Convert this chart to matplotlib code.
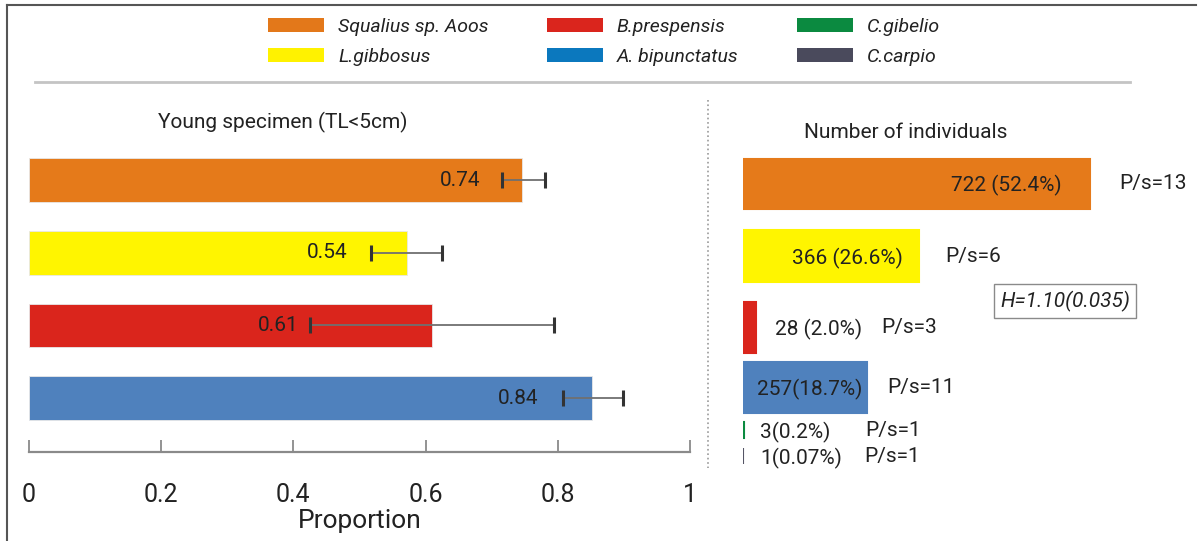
import matplotlib
matplotlib.use("Agg")
import matplotlib.pyplot as plt
from matplotlib.patches import Patch
from matplotlib.lines import Line2D

# ---------------- data ----------------
species = ["Squalius sp. Aoos", "L.gibbosus", "B.prespensis",
           "A. bipunctatus", "C.gibelio", "C.carpio"]
legend_colors = ["#E3781A", "#FFF200", "#DA251D", "#0B78BE", "#0B8A40", "#4A4A5C"]
bar_colors = ["#E57A1A", "#FFF500", "#DA251C", "#4F81BD", "#0B8A40", "#555565"]

prop_values = [0.746, 0.572, 0.61, 0.852]
prop_labels = ["0.74", "0.54", "0.61", "0.84"]
err_low = [0.716, 0.517, 0.425, 0.808]
err_high = [0.781, 0.625, 0.794, 0.899]
prop_ticks = [0, 0.2, 0.4, 0.6, 0.8, 1]
prop_ticklabels = ["0", "0.2", "0.4", "0.6", "0.8", "1"]

counts = [722, 366, 28, 257, 3, 1]
count_labels = ["722 (52.4%)", "366 (26.6%)", "28 (2.0%)", "257(18.7%)",
                "3(0.2%)", "1(0.07%)"]
ps_labels = ["P/s=13", "P/s=6", "P/s=3", "P/s=11", "P/s=1", "P/s=1"]
h_label = "H=1.10(0.035)"

# ---------------- style / layout ----------------
FONT = ["Roboto", "DejaVu Sans"]
plt.rcParams["font.family"] = FONT
TXT = "#222222"
W, H = 1202, 541
fig = plt.figure(figsize=(W / 100, H / 100), dpi=100)


def fx(px):
    return px / W


def fy(py):
    return 1 - py / H


# ---- left panel: proportion of young specimens ----
ax1 = fig.add_axes([fx(29), fy(452), (690 - 29) / W, (452 - 140) / H])
ypos = list(range(len(prop_values)))
ax1.barh(ypos, prop_values, height=0.6, color=bar_colors[:4],
         edgecolor="#e8e8e8", linewidth=0.6)
ax1.hlines(ypos, err_low, err_high, color="#707070", lw=1.3, zorder=3)
ax1.plot(err_low, ypos, ls="none", marker="|", ms=12, mew=2.2, color="#333333", zorder=4)
ax1.plot(err_high, ypos, ls="none", marker="|", ms=12, mew=2.2, color="#333333", zorder=4)
lab_off = [-22, -23, -11, -25]
for i, lbl in enumerate(prop_labels):
    ax1.annotate(lbl, xy=(err_low[i], i), xytext=(lab_off[i], 0),
                 textcoords="offset pixels", ha="right", va="center",
                 fontsize=15, color=TXT)
ax1.set_xlim(0, 1)
ax1.set_ylim(3.74, -0.55)
ax1.set_yticks([])
ax1.set_xticks(prop_ticks)
ax1.set_xticklabels(prop_ticklabels)
for s in ["left", "top", "right"]:
    ax1.spines[s].set_visible(False)
ax1.spines["bottom"].set_color("#8a8a8a")
ax1.spines["bottom"].set_linewidth(1.6)
ax1.tick_params(axis="x", direction="in", length=9, width=1.3, color="#8a8a8a",
                pad=22, labelsize=18, labelcolor=TXT)
ax1.set_xlabel("Proportion", fontsize=19, color=TXT, labelpad=2)
ax1.patch.set_alpha(0)

# ---- right panel: number of individuals ----
ax2 = fig.add_axes([fx(743), fy(470), (1192 - 743) / W, (470 - 140) / H])
rows = [0, 1, 1.99, 2.82, 3.42, 3.78]
heights = [0.7, 0.71, 0.7, 0.71, 0.22, 0.22]
ax2.barh(rows, counts, height=heights, color=bar_colors,
         edgecolor=bar_colors, linewidth=1.5)
ax2.set_xlim(0, (1192 - 743) / 0.4806)
ax2.set_ylim(3.97, -0.61)
ax2.axis("off")
cnt_off = [-28, -16, 19, -4, 16, 17]
cnt_ha = ["right", "right", "left", "right", "left", "left"]
ps_off = [29, 26, 125, 21, 121, 121]
for i in range(len(counts)):
    ax2.annotate(count_labels[i], xy=(counts[i], rows[i]), xytext=(cnt_off[i], -2),
                 textcoords="offset pixels", ha=cnt_ha[i], va="center",
                 fontsize=15, color=TXT)
    ax2.annotate(ps_labels[i], xy=(counts[i], rows[i]), xytext=(ps_off[i], 0),
                 textcoords="offset pixels", ha="left", va="center",
                 fontsize=15, color=TXT, annotation_clip=False, clip_on=True)

fig.text(fx(1065), fy(301), h_label, ha="center", va="center", fontsize=15,
         style="italic", color=TXT,
         bbox=dict(boxstyle="square,pad=0.3", fc="white", ec="#8a8a8a", lw=1))

# ---- titles ----
fig.text(fx(283), fy(122), "Young specimen (TL<5cm)", ha="center", va="center",
         fontsize=15, color=TXT)
fig.text(fx(906), fy(132), "Number of individuals", ha="center", va="center",
         fontsize=15, color=TXT)

# ---- legend ----
handles = [Patch(facecolor=c, edgecolor="none") for c in legend_colors]
fig.legend(handles, species, ncol=3, loc="center", bbox_to_anchor=(fx(604), fy(42)),
           frameon=False, prop=dict(family=FONT, style="italic", size=14),
           handlelength=2.9, handleheight=0.75, columnspacing=3.0,
           labelspacing=0.62, handletextpad=0.7, labelcolor=TXT)

# ---- frame and separators ----
fig.add_artist(Line2D([fx(7), fx(7)], [0, fy(5)], color="#555555", lw=1.5))
fig.add_artist(Line2D([fx(7), fx(1196)], [fy(5), fy(5)], color="#555555", lw=1.5))
fig.add_artist(Line2D([fx(35), fx(1130)], [fy(82), fy(82)], color="#c4c4c4", lw=2))
fig.add_artist(Line2D([fx(708), fx(708)], [fy(100), fy(468)], color="#9a9a9a",
                      lw=1.2, ls=":"))

fig.savefig("out.png", dpi=100)
